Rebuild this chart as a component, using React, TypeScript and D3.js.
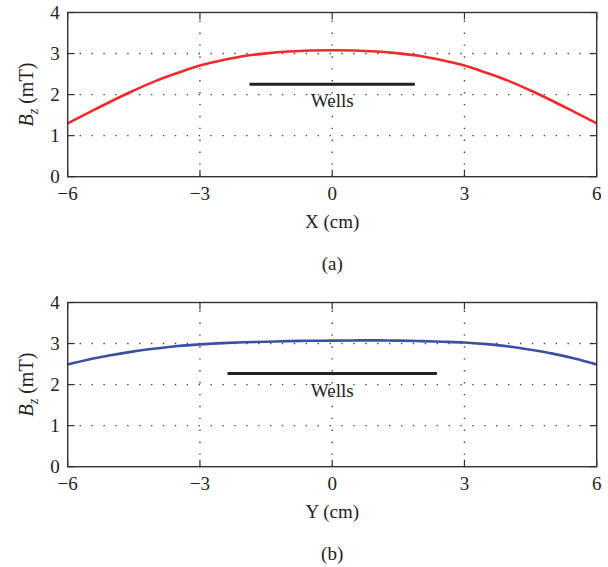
import React from "react";
import * as d3 from "d3";

const xTicks = [-6, -3, 0, 3, 6];
const yTicks = [0, 1, 2, 3, 4];
const gridX = [-3, 0, 3];
const gridY = [1, 2, 3];

const redX = [-6, -5.5, -5, -4.5, -4, -3.5, -3, -2.5, -2, -1.5, -1, -0.5, 0, 0.5, 1, 1.5, 2, 2.5, 3, 3.5, 4, 4.5, 5, 5.5, 6];
const redY = [1.30, 1.575, 1.845, 2.10, 2.335, 2.53, 2.71, 2.835, 2.94, 3.005, 3.05, 3.075, 3.08, 3.075, 3.05, 3.005, 2.94, 2.835, 2.71, 2.53, 2.335, 2.10, 1.845, 1.575, 1.30];

const blueX = [-6, -5.5, -5, -4.5, -4, -3.5, -3, -2.5, -2, -1.5, -1, -0.5, 0, 0.5, 1, 1.5, 2, 2.5, 3, 3.5, 4, 4.5, 5, 5.5, 6];
const blueY = [2.49, 2.62, 2.72, 2.81, 2.88, 2.94, 2.98, 3.01, 3.03, 3.045, 3.06, 3.067, 3.072, 3.076, 3.077, 3.072, 3.06, 3.045, 3.025, 2.985, 2.93, 2.85, 2.755, 2.635, 2.49];

const wellsA = { x0: -1.875, x1: 1.875, y: 2.25 };
const wellsB = { x0: -2.375, x1: 2.375, y: 2.27 };

const FONT = "'Liberation Serif', 'DejaVu Serif', serif";
const AX = "#333";

type PanelProps = {
  top: number;
  xs: number[];
  ys: number[];
  color: string;
  wells: { x0: number; x1: number; y: number };
  xLabel: string;
  caption: string;
};

function Panel({ top, xs, ys, color, wells, xLabel, caption }: PanelProps) {
  const left = 67.7;
  const right = 596.7;
  const height = 164.2;
  const x = d3.scaleLinear().domain([-6, 6]).range([left, right]);
  const y = d3.scaleLinear().domain([0, 4]).range([top + height, top]);
  const line = d3
    .line<number>()
    .x((_, i) => x(xs[i]))
    .y((d) => y(d))
    .curve(d3.curveCatmullRom.alpha(0.5));
  const bottom = top + height;
  const tl = 7;
  return (
    <g>
      {gridY.map((v) => (
        <line key={"gy" + v} x1={left} x2={right} y1={y(v)} y2={y(v)} stroke="#444" strokeWidth={1.4} strokeDasharray="1.4 10.5" />
      ))}
      {gridX.map((v) => (
        <line key={"gx" + v} x1={x(v)} x2={x(v)} y1={bottom} y2={top} stroke="#444" strokeWidth={1.4} strokeDasharray="1.4 10.5" />
      ))}
      <path d={line(ys) || ""} fill="none" stroke={color} strokeWidth={2.6} />
      <line x1={x(wells.x0)} x2={x(wells.x1)} y1={y(wells.y)} y2={y(wells.y)} stroke="#222" strokeWidth={3} />
      <text x={x(0)} y={y(wells.y) + 23} textAnchor="middle" fontFamily={FONT} fontSize={19} fill="#222">Wells</text>
      <rect x={left} y={top} width={right - left} height={height} fill="none" stroke={AX} strokeWidth={1.4} />
      {xTicks.map((v) => (
        <g key={"xt" + v}>
          <line x1={x(v)} x2={x(v)} y1={bottom} y2={bottom - tl} stroke={AX} strokeWidth={1.2} />
          <line x1={x(v)} x2={x(v)} y1={top} y2={top + tl} stroke={AX} strokeWidth={1.2} />
          <text x={x(v)} y={bottom + 23} textAnchor="middle" fontFamily={FONT} fontSize={19} fill="#222">
            {v < 0 ? "\u2212" + Math.abs(v) : String(v)}
          </text>
        </g>
      ))}
      {yTicks.map((v) => (
        <g key={"yt" + v}>
          <line x1={left} x2={left + tl} y1={y(v)} y2={y(v)} stroke={AX} strokeWidth={1.2} />
          <line x1={right} x2={right - tl} y1={y(v)} y2={y(v)} stroke={AX} strokeWidth={1.2} />
          <text x={left - 8} y={y(v) + 6} textAnchor="end" fontFamily={FONT} fontSize={19} fill="#222">{v}</text>
        </g>
      ))}
      <text transform={`translate(33, ${top + height / 2}) rotate(-90)`} textAnchor="middle" fontFamily={FONT} fontSize={20} fill="#222">
        <tspan fontStyle="italic">B</tspan>
        <tspan fontStyle="italic" fontSize={14} dy={5}>z</tspan>
        <tspan dy={-5}> (mT)</tspan>
      </text>
      <text x={x(0)} y={bottom + 51} textAnchor="middle" fontFamily={FONT} fontSize={19} fill="#222">{xLabel}</text>
      <text x={x(0)} y={bottom + 93} textAnchor="middle" fontFamily={FONT} fontSize={19} fill="#222">{caption}</text>
    </g>
  );
}

export default function App() {
  return (
    <svg width={608} height={567} style={{ position: "absolute", left: 0, top: 0, background: "#fff" }}>
      <rect width={608} height={567} fill="#fff" />
      <Panel top={12.5} xs={redX} ys={redY} color="#ee2a2a" wells={wellsA} xLabel="X (cm)" caption="(a)" />
      <Panel top={302.5} xs={blueX} ys={blueY} color="#3b4fa3" wells={wellsB} xLabel="Y (cm)" caption="(b)" />
    </svg>
  );
}
